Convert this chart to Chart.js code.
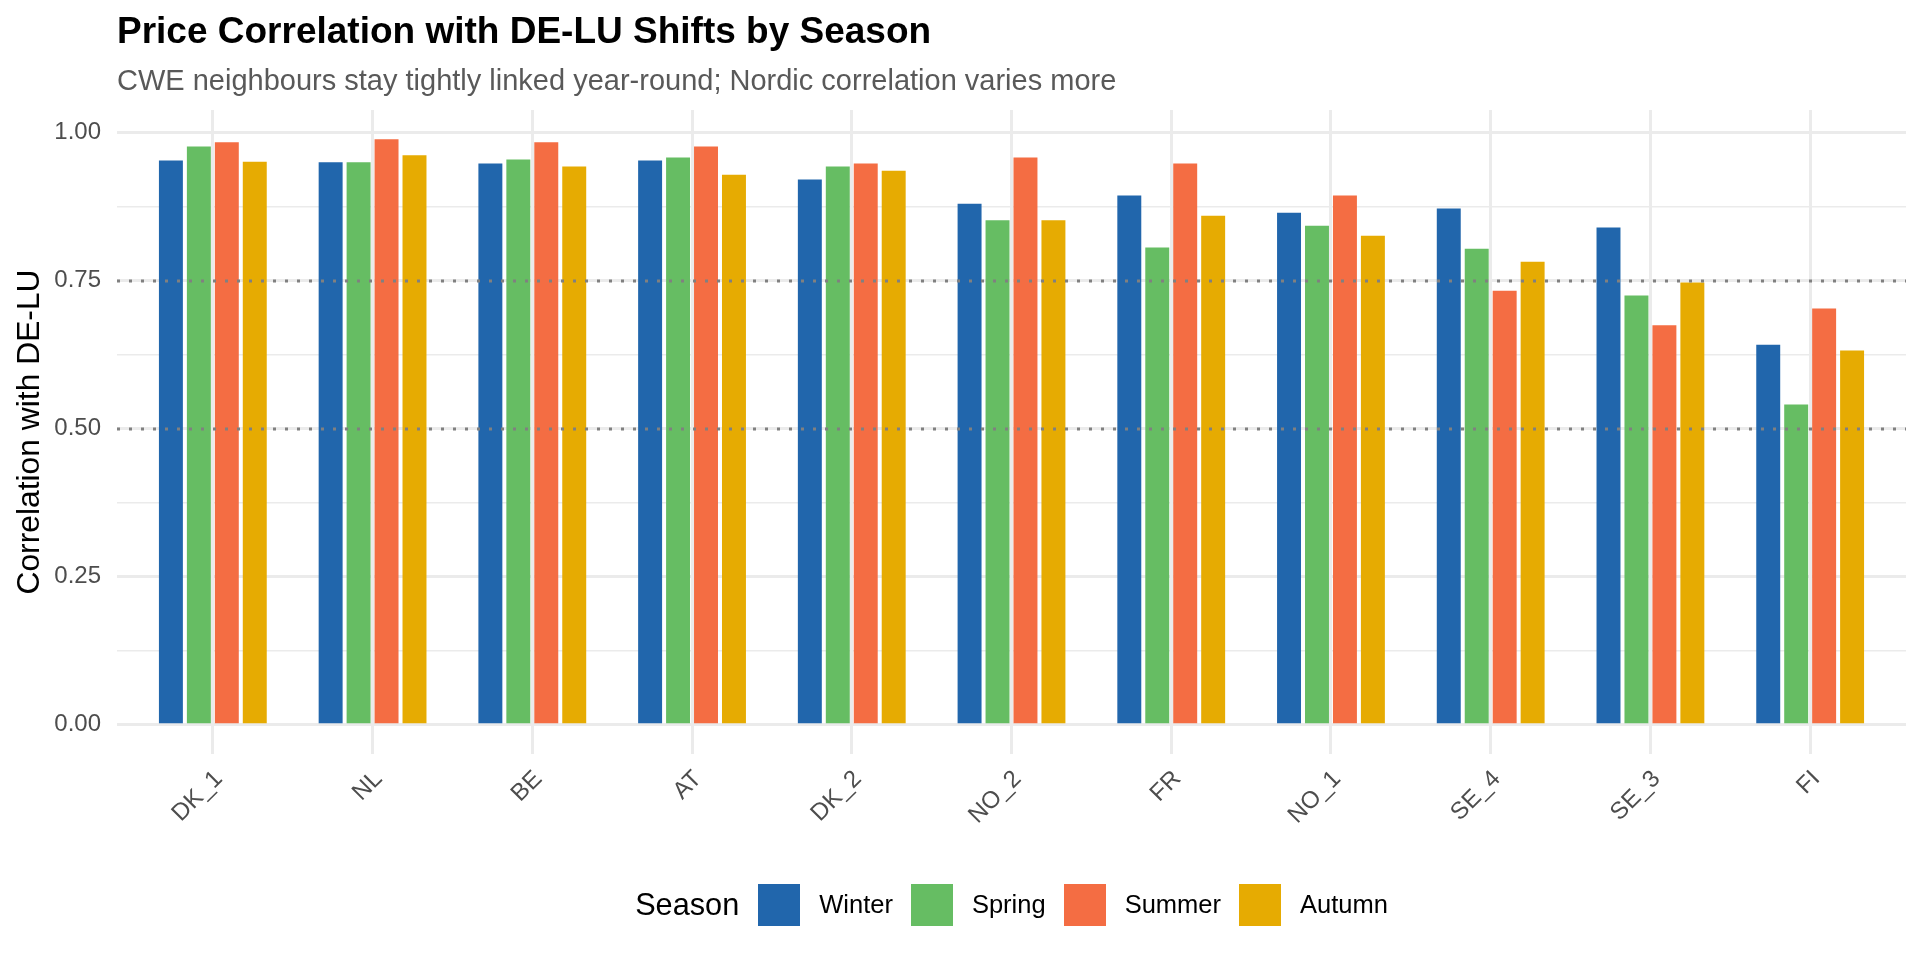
<!DOCTYPE html>
<html>
<head>
<meta charset="utf-8">
<script src="https://cdn.jsdelivr.net/npm/chart.js@4"></script>
<style>
    html, body { margin: 0; padding: 0; background: #fff; }
    #wrap { position: relative; width: 1920px; height: 960px; font-family: 'Liberation Sans', Arial, sans-serif; }
    #chart { position: absolute; left: 0; top: 0; }
    #title { position: absolute; left: 117px; top: 12px; font-size: 37px; line-height: 1; font-weight: bold; color: #000; white-space: nowrap; }
    #subtitle { position: absolute; left: 117px; top: 66px; font-size: 29px; line-height: 1; color: #595959; white-space: nowrap; }
    #legend { position: absolute; left: 117px; width: 1789px; top: 884px; height: 42px; display: flex; justify-content: center; align-items: center; }
    #legend .ltitle { font-size: 30.7px; line-height: 1; color: #000; margin-right: 19px; }
    #legend .key { width: 42px; height: 42px; margin-right: 19px; }
    #legend .lab { font-size: 25.5px; line-height: 1; color: #000; margin-right: 18px; }
    #legend .lab:last-child { margin-right: 0; }
</style>
</head>
<body>
<div id="wrap">
    <canvas id="chart" width="1920" height="960"></canvas>
    <div id="title">Price Correlation with DE-LU Shifts by Season</div>
    <div id="subtitle">CWE neighbours stay tightly linked year-round; Nordic correlation varies more</div>
    <div id="legend"></div>
</div>
<script>
// zones, ordered as on the x axis
const zones = ['DK_1', 'NL', 'BE', 'AT', 'DK_2', 'NO_2', 'FR', 'NO_1', 'SE_4', 'SE_3', 'FI'];
const seasons = ['Winter', 'Spring', 'Summer', 'Autumn'];
const seasonColors = ['#2166AC', '#66BD63', '#F46D43', '#E6AB02'];

// correlation with DE-LU per season
const winter = [0.953, 0.950, 0.948, 0.953, 0.921, 0.880, 0.894, 0.865, 0.872, 0.840, 0.642];
const spring = [0.977, 0.950, 0.955, 0.958, 0.943, 0.852, 0.806, 0.843, 0.804, 0.725, 0.541];
const summer = [0.984, 0.989, 0.984, 0.977, 0.948, 0.958, 0.948, 0.894, 0.733, 0.675, 0.703];
const autumn = [0.951, 0.962, 0.943, 0.929, 0.936, 0.852, 0.860, 0.826, 0.782, 0.747, 0.632];

const yTicks = [0, 0.125, 0.25, 0.375, 0.5, 0.625, 0.75, 0.875, 1];
const refLines = [0.5, 0.75];

const seriesValues = [winter, spring, summer, autumn];
const maxVal = Math.max(...seriesValues.flat());
const isMajor = v => Math.abs(v * 4 - Math.round(v * 4)) < 1e-9;

// dotted reference lines drawn over the bars
const refLinePlugin = {
    id: 'refLines',
    afterDatasetsDraw(chart) {
        const { ctx, chartArea, scales } = chart;
        ctx.save();
        ctx.strokeStyle = '#808080';
        ctx.lineWidth = 3;
        ctx.setLineDash([3, 9]);
        refLines.forEach(v => {
            const y = Math.round(scales.y.getPixelForValue(v));
            ctx.beginPath();
            ctx.moveTo(chartArea.left, y);
            ctx.lineTo(chartArea.right, y);
            ctx.stroke();
        });
        ctx.restore();
    }
};

const datasets = seasons.map((s, k) => ({
    label: s,
    data: seriesValues[k].map((v, i) => ({ x: i, y: v })),
    backgroundColor: seasonColors[k],
    borderWidth: 0,
    categoryPercentage: 0.7,
    barPercentage: 0.857
}));

new Chart(document.getElementById('chart').getContext('2d'), {
    type: 'bar',
    data: { datasets: datasets },
    plugins: [refLinePlugin],
    options: {
        responsive: false,
        animation: false,
        devicePixelRatio: 1,
        layout: { padding: { left: 0, top: 110, right: 14, bottom: 0 } },
        plugins: {
            legend: { display: false },
            tooltip: { enabled: false }
        },
        scales: {
            x: {
                type: 'linear',
                offset: false,
                min: -0.6,
                max: zones.length - 1 + 0.6,
                afterBuildTicks: scale => { scale.ticks = zones.map((_, i) => ({ value: i })); },
                afterFit: scale => { scale.height = 206; },
                border: { display: false },
                grid: { color: '#EBEBEB', lineWidth: 3, drawTicks: false, offset: false },
                ticks: {
                    autoSkip: false,
                    minRotation: 45,
                    maxRotation: 45,
                    padding: 11,
                    labelOffset: 6,
                    color: '#4D4D4D',
                    font: { family: "'Liberation Sans', Arial, sans-serif", size: 24 },
                    callback: v => zones[v]
                }
            },
            y: {
                min: -0.05 * maxVal,
                max: 1.05 * maxVal,
                afterBuildTicks: scale => { scale.ticks = yTicks.map(v => ({ value: v })); },
                afterFit: scale => { scale.width = 117; },
                border: { display: false },
                grid: {
                    color: '#EBEBEB',
                    drawTicks: false,
                    lineWidth: c => (c.tick && isMajor(c.tick.value)) ? 3 : 1.5
                },
                ticks: {
                    padding: 16,
                    color: '#4D4D4D',
                    font: { family: "'Liberation Sans', Arial, sans-serif", size: 24 },
                    callback: v => isMajor(v) ? v.toFixed(2) : ''
                },
                title: {
                    display: true,
                    text: 'Correlation with DE-LU',
                    color: '#000',
                    padding: { top: 11, bottom: 0 },
                    font: { family: "'Liberation Sans', Arial, sans-serif", size: 31.8 }
                }
            }
        }
    }
});

// legend row: title inline with the keys, as in the reference
const legend = document.getElementById('legend');
legend.innerHTML = '<span class="ltitle">Season</span>' +
    seasons.map((s, k) => `<span class="key" style="background:${seasonColors[k]}"></span><span class="lab">${s}</span>`).join('');
</script>
</body>
</html>
